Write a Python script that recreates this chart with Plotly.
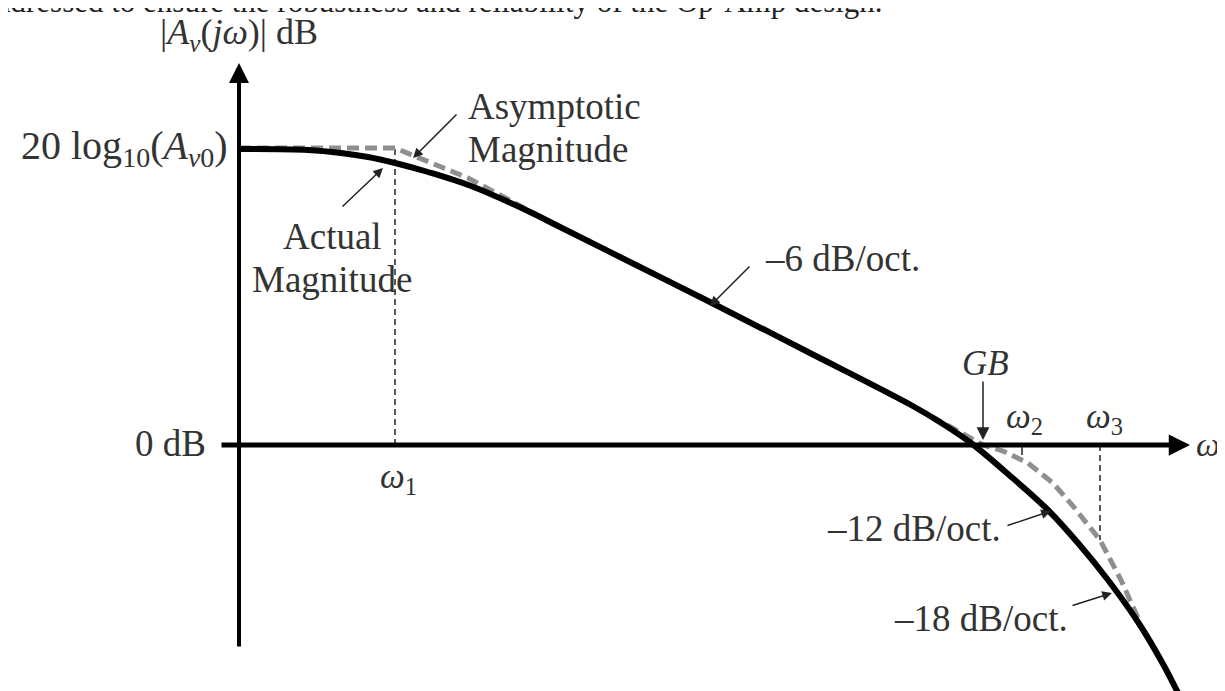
import plotly.graph_objects as go

# frame: x measured from the vertical axis, y from the 0 dB line (1 unit ~ 1 px)
# actual magnitude (solid)
actual_x = [0, 69, 102, 129, 156, 189, 232, 289, 319, 399, 469, 569, 672, 704, 732,
            769, 809, 839, 869, 899, 924, 944]
actual_y = [296, 295, 292, 288, 282, 273, 259, 234, 219, 179, 144, 93, 40, 21, 2,
            -29, -65, -98, -135, -177, -219, -258]

# asymptotic magnitude (grey dashed)
asym_x = [0, 156, 229, 289, 319, 399, 469, 569, 672, 710, 744,
          764, 789, 814, 834, 861, 882, 899]
asym_y = [297, 297, 267, 235, 219, 179, 144, 93, 40, 19, 0,
          -6, -18, -38, -61, -95, -135, -173]

# break frequencies and the low-frequency level
w1, w2, w3, gb = 156, 783, 861, 744
level = 296
w3_drop = -95
w2_tick = -10

freq_labels = ['1', '2', '3']

font = 'Liberation Serif, Times New Roman, serif'
ink = '#333333'

fig = go.Figure()

# guide lines at the break frequencies
fig.add_trace(go.Scatter(x=[w1, w1], y=[0, level], mode='lines',
                         line=dict(color='#222', width=1.5, dash='6px,4px')))
fig.add_trace(go.Scatter(x=[w3, w3], y=[0, w3_drop], mode='lines',
                         line=dict(color='#222', width=1.5, dash='6px,4px')))
fig.add_trace(go.Scatter(x=[w2, w2], y=[0, w2_tick], mode='lines',
                         line=dict(color='#222', width=1.5)))

fig.add_trace(go.Scatter(x=asym_x, y=asym_y, mode='lines',
                         line=dict(color='#8f8f8f', width=5, dash='12px,6px')))
fig.add_trace(go.Scatter(x=actual_x, y=actual_y, mode='lines', line_shape='spline',
                         line=dict(color='black', width=6)))

ann = []


def arrow(x, y, ax, ay, width=1.5, size=1.3, color='#222'):
    ann.append(dict(x=x, y=y, ax=ax, ay=ay, xref='x', yref='y', axref='x', ayref='y',
                    text='', showarrow=True, arrowhead=2, arrowsize=size,
                    arrowwidth=width, arrowcolor=color, standoff=0, startstandoff=0))


def label(x, y, text, xanchor='center', size=37):
    ann.append(dict(x=x, y=y, xref='x', yref='y', text=text, showarrow=False,
                    xanchor=xanchor, yanchor='middle',
                    font=dict(family=font, size=size, color=ink)))


# axes
arrow(951, 0, -19, 0, width=5, size=0.85, color='black')
arrow(0, 382, 0, -203, width=4, size=1.0, color='black')

# leaders
arrow(174, 287, 219, 332)
arrow(144, 277, 102, 237)
arrow(471, 139, 512, 180)
arrow(812, -66, 767, -81)
arrow(873, -148, 832, -161)
arrow(gb, 5, gb, 65, size=1.7)

# cropped line of page text above the figure
ann.append(dict(x=0, y=1, xref='paper', yref='paper', yanchor='middle', xanchor='left',
                xshift=-15, yshift=7, showarrow=False,
                text='ddressed to ensure the robustness and reliability of the Op-Amp design.',
                font=dict(family=font, size=31, color='#222')))

label(0, 411, '|<i>A</i><sub><i>v</i></sub>(<i>jω</i>)| dB', size=36)
label(-9, 297, '20 log<sub>10</sub>(<i>A</i><sub><i>v</i>0</sub>)', xanchor='right', size=40)
label(-31, 2, '0 dB', xanchor='right')
label(227, 339, 'Asymptotic', xanchor='left')
label(227, 296, 'Magnitude', xanchor='left')
label(93, 209, 'Actual')
label(93, 166, 'Magnitude')
label(524, 187, '–6 dB/oct.', xanchor='left')
label(764, -83, '–12 dB/oct.', xanchor='right')
label(831, -173, '–18 dB/oct.', xanchor='right')
label(gb + 2, 82, '<i>GB</i>', size=35)
label(w1 + 3, -33, '<i>ω</i><sub>' + freq_labels[0] + '</sub>', size=35)
label(w2 + 2, 27, '<i>ω</i><sub>' + freq_labels[1] + '</sub>', size=35)
label(w3 + 4, 27, '<i>ω</i><sub>' + freq_labels[2] + '</sub>', size=35)
label(969, 1, '<i>ω</i>', size=34)

fig.update_layout(
    width=1225, height=691,
    margin=dict(l=0, r=0, t=0, b=0),
    paper_bgcolor='white', plot_bgcolor='white',
    showlegend=False,
    xaxis=dict(range=[-231, 994], visible=False, fixedrange=True),
    yaxis=dict(range=[-254, 437], visible=False, fixedrange=True),
    annotations=ann,
)

fig.write_html('out.html')
